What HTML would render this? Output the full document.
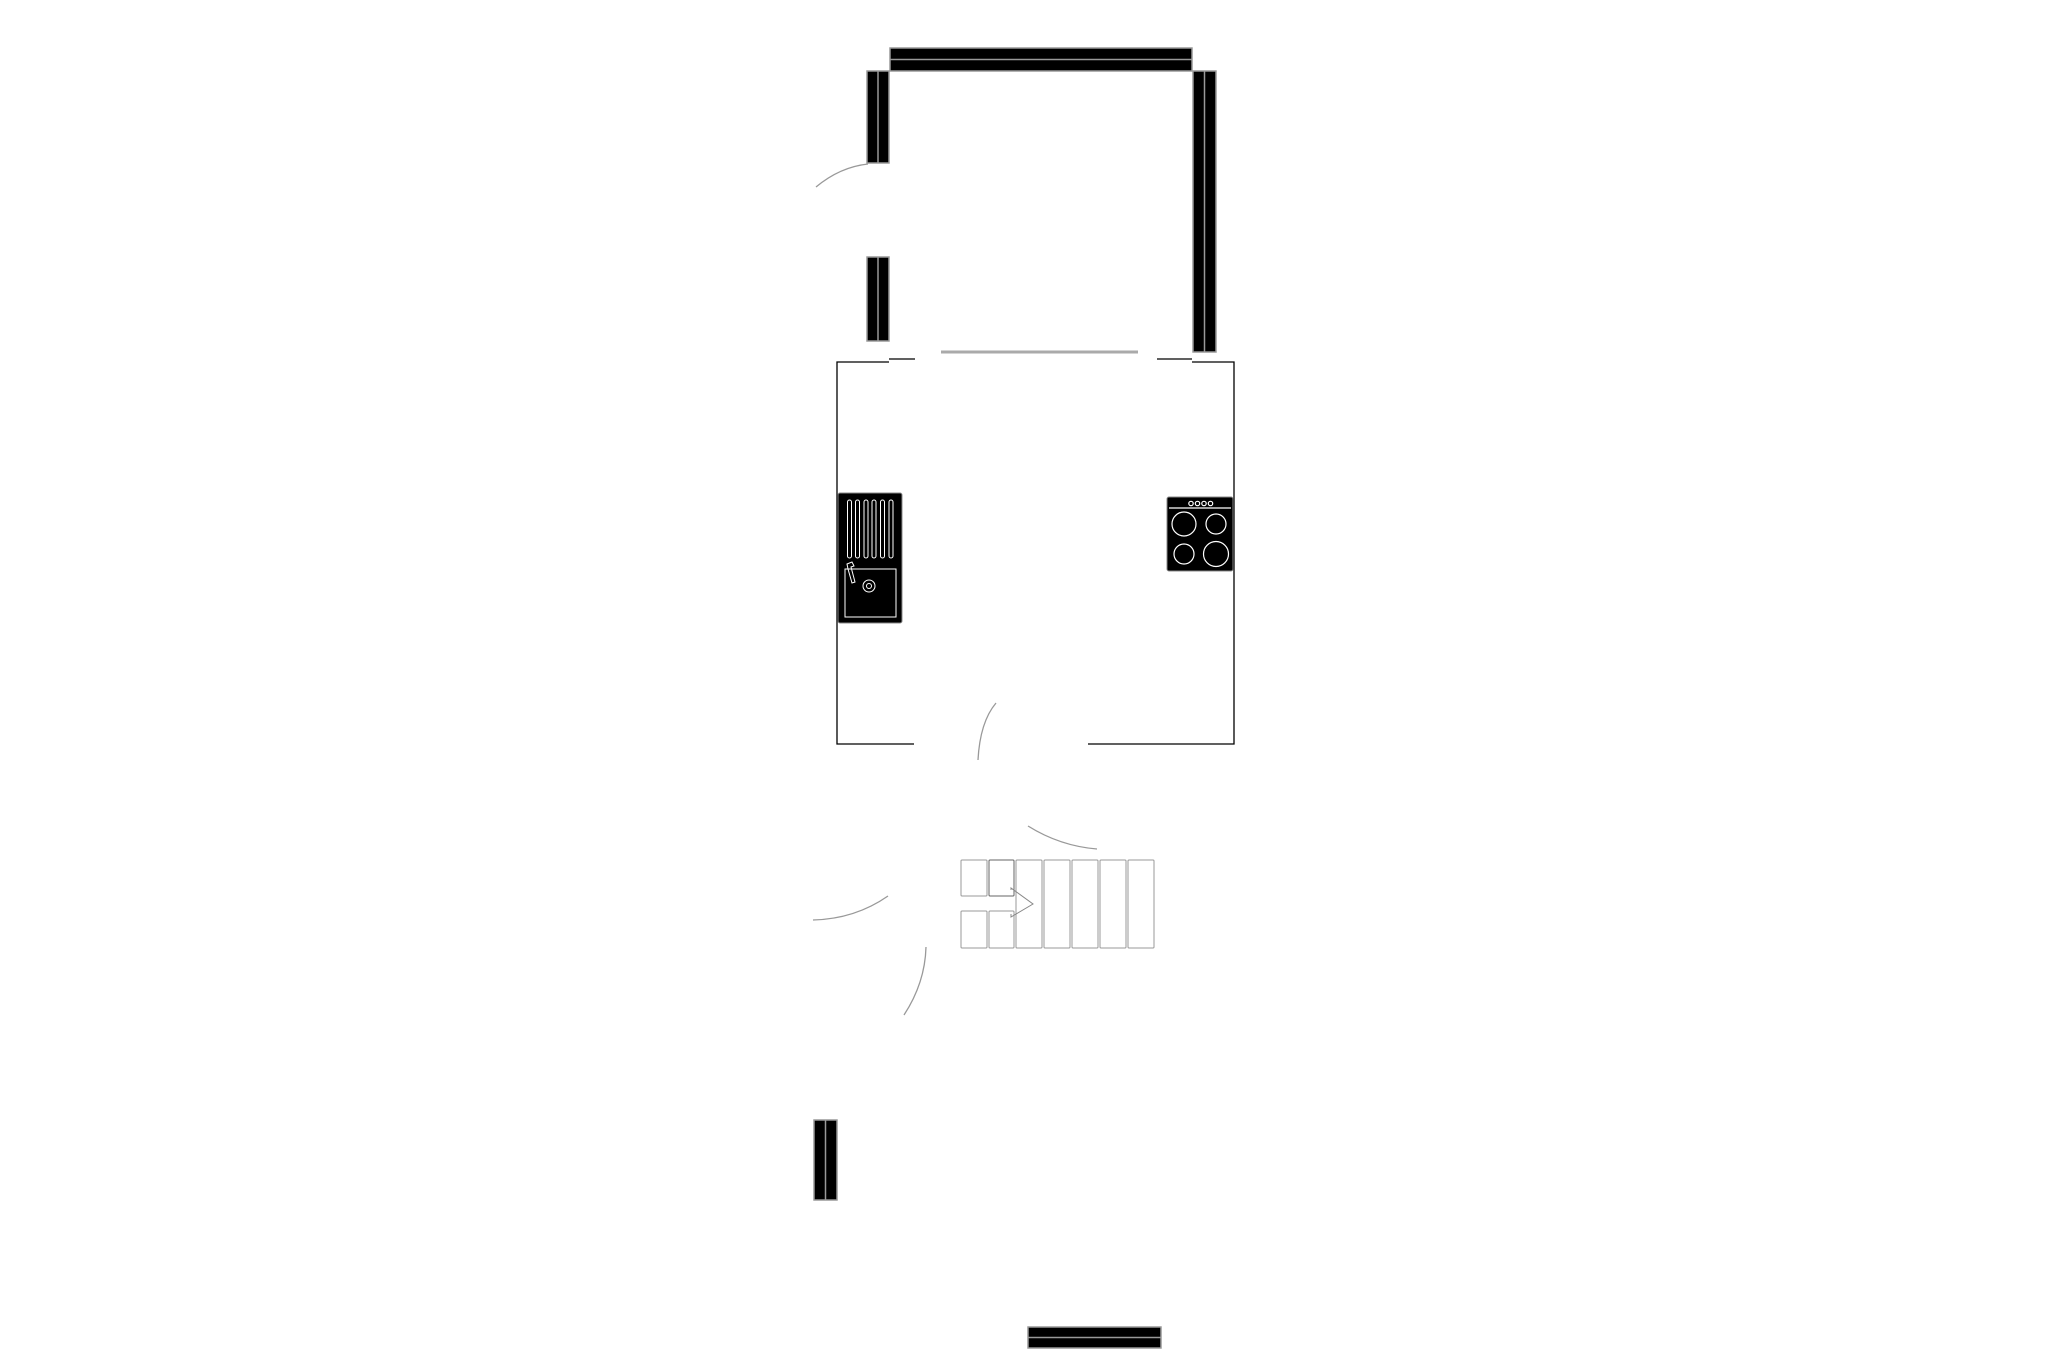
<!DOCTYPE html>
<html><head><style>html,body{margin:0;padding:0;background:#fff}svg{display:block}</style></head>
<body>
<svg width="2057" height="1371" viewBox="0 0 2057 1371" xmlns="http://www.w3.org/2000/svg">
<g fill="#000" stroke="#999" stroke-width="1.5">
<rect x="890" y="48" width="302" height="23"/>
<rect x="867" y="71" width="22" height="92"/>
<rect x="867" y="257" width="22" height="84"/>
<rect x="1193" y="71" width="23" height="281"/>
<rect x="814" y="1120" width="23" height="80"/>
<rect x="1028" y="1327" width="133" height="21"/>
</g>
<g stroke="#999" stroke-width="1.5">
<line x1="890" y1="59.5" x2="1192" y2="59.5"/>
<line x1="878" y1="71" x2="878" y2="163"/>
<line x1="878" y1="257" x2="878" y2="341"/>
<line x1="1204.5" y1="71" x2="1204.5" y2="352"/>
<line x1="825.5" y1="1120" x2="825.5" y2="1200"/>
<line x1="1028" y1="1337.5" x2="1161" y2="1337.5"/>
</g>
<line x1="941" y1="352" x2="1138" y2="352" stroke="#aaa" stroke-width="3"/>
<g fill="none" stroke="#000" stroke-width="1.3">
<path d="M889 362 H837 V744 H914"/>
<path d="M1088 744 H1234 V362 H1192"/>
<path d="M889 359 H915"/>
<path d="M1157 359 H1192"/>
</g>
<g fill="none" stroke="#999" stroke-width="1.3">
<path d="M816 187 Q840 167 868 164"/>
<path d="M996 703 Q980 722 978 760"/>
<path d="M1028 826 Q1060 846 1097 849"/>
<path d="M813 920 Q855 919 888 896"/>
<path d="M926 947 Q925 983 904 1015"/>
</g>
<rect x="838" y="493" width="64" height="130" rx="2" fill="#000" stroke="#888" stroke-width="1"/>
<g fill="none" stroke="#fff" stroke-width="1">
<rect x="847.5" y="500" width="4" height="58" rx="2"/>
<rect x="855.5" y="500" width="4" height="58" rx="2"/>
<rect x="864" y="500" width="4" height="58" rx="2"/>
<rect x="872" y="500" width="4" height="58" rx="2"/>
<rect x="880.5" y="500" width="4" height="58" rx="2"/>
<rect x="889" y="500" width="4" height="58" rx="2"/>
<rect x="845" y="569" width="51" height="48"/>
<circle cx="869" cy="586" r="6"/><circle cx="869" cy="586" r="2.5"/>
<path d="M847 564 L852 562 L854 566 L851 567 L855 582 L852 583 L848 569 Z"/>
</g>
<rect x="1167" y="497" width="66" height="74" rx="2" fill="#000" stroke="#888" stroke-width="1"/>
<g fill="none" stroke="#fff" stroke-width="1.2">
<line x1="1169" y1="508" x2="1231" y2="508"/>
<circle cx="1191" cy="503.5" r="2.2"/><circle cx="1197.5" cy="503.5" r="2.2"/><circle cx="1204" cy="503.5" r="2.2"/><circle cx="1210.5" cy="503.5" r="2.2"/>
<circle cx="1184" cy="524" r="12"/><circle cx="1216" cy="524" r="10"/>
<circle cx="1184" cy="554" r="10"/><circle cx="1216" cy="554" r="12.5"/>
</g>
<g fill="none" stroke="#999" stroke-width="1">
<rect x="961" y="860" width="26" height="36" rx="1"/>
<rect x="961" y="911" width="26" height="37" rx="1"/>
<rect x="989" y="860" width="25" height="36" rx="1" stroke="#666"/>
<rect x="989" y="911" width="25" height="37" rx="1"/>
<rect x="1016" y="860" width="26" height="88" rx="1"/>
<rect x="1044" y="860" width="26" height="88" rx="1"/>
<rect x="1072" y="860" width="26" height="88" rx="1"/>
<rect x="1100" y="860" width="26" height="88" rx="1"/>
<rect x="1128" y="860" width="26" height="88" rx="1"/>
<path d="M1011 890 V888 L1033 904 L1011 917 V914" stroke="#888"/>
</g>
</svg>
</body></html>
